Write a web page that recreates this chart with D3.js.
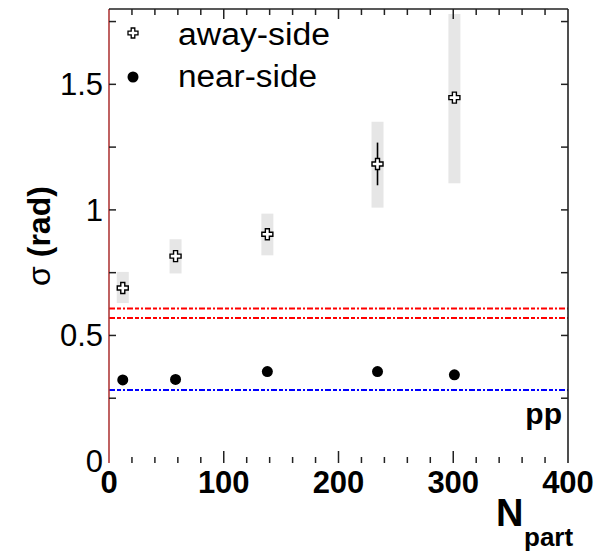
<!DOCTYPE html>
<html>
<head>
<meta charset="utf-8">
<script src="https://cdn.jsdelivr.net/npm/d3@7"></script>
<style>
  html, body { margin: 0; padding: 0; background: #fff; }
  svg { display: block; }
  text { font-family: "Liberation Sans", Arial, sans-serif; fill: #000; }
</style>
</head>
<body>
<svg id="chart" width="595" height="552"></svg>
<script>
// Number of participants per centrality bin
const npart = [12, 58, 138, 234, 301];
// Away-side Gaussian width (rad), statistical and systematic errors
const awaySigma = [0.689, 0.816, 0.903, 1.183, 1.447];
const awayStat = [0.008, 0.01, 0.01, 0.085, 0.02];
const awaySysLow = [0.629, 0.747, 0.819, 1.009, 1.106];
const awaySysHigh = [0.753, 0.883, 0.985, 1.351, 1.780];
// Near-side Gaussian width (rad)
const nearSigma = [0.323, 0.325, 0.356, 0.356, 0.343];
// p+p reference bands
const ppAway = [0.607, 0.569];
const ppNear = [0.283];
// Axis ticks
const xTickLabels = [0, 100, 200, 300, 400];
const yTickLabels = [0, 0.5, 1, 1.5];

(function () {
const svg = d3.select("#chart");
const pl = 109, pr = 568, pt = 9, pb = 461;

const x = d3.scaleLinear().domain([0, 400]).range([pl, pr]);
const y = d3.scaleLinear().domain([0, 1.8]).range([pb, pt]);

// Systematic error boxes
svg.append("g").selectAll("rect")
  .data(npart)
  .join("rect")
  .attr("x", (d) => x(d) - 6)
  .attr("width", 12)
  .attr("y", (d, i) => y(awaySysHigh[i]))
  .attr("height", (d, i) => y(awaySysLow[i]) - y(awaySysHigh[i]))
  .attr("fill", "#e6e6e6");

// p+p reference lines
const dash = "6,2,4,2,2,2";
svg.append("g").selectAll("line")
  .data(ppAway)
  .join("line")
  .attr("x1", pl).attr("x2", pr)
  .attr("y1", (d) => y(d)).attr("y2", (d) => y(d))
  .attr("stroke", "#ff0000").attr("stroke-width", 2)
  .attr("stroke-dasharray", dash);
svg.append("g").selectAll("line")
  .data(ppNear)
  .join("line")
  .attr("x1", pl).attr("x2", pr)
  .attr("y1", (d) => y(d)).attr("y2", (d) => y(d))
  .attr("stroke", "#0000ff").attr("stroke-width", 2)
  .attr("stroke-dasharray", dash);

// Frame: left axis line in dark red, top and right in black
svg.append("line").attr("x1", pl).attr("x2", pl).attr("y1", pt).attr("y2", pb + 2)
  .attr("stroke", "#b03a3a").attr("stroke-width", 1.6);
svg.append("line").attr("x1", pl).attr("x2", pr).attr("y1", pt).attr("y2", pt)
  .attr("stroke", "#222").attr("stroke-width", 1.6);
svg.append("line").attr("x1", pr).attr("x2", pr).attr("y1", pt).attr("y2", pb + 2)
  .attr("stroke", "#222").attr("stroke-width", 1.6);

// Y ticks (inward on both sides) and labels
const yTicks = d3.range(0.25, 1.8, 0.25);
svg.append("g").selectAll("line").data(yTicks).join("line")
  .attr("x1", pl).attr("x2", pl + 7)
  .attr("y1", (d) => y(d)).attr("y2", (d) => y(d))
  .attr("stroke", "#222").attr("stroke-width", 1.5);
svg.append("g").selectAll("line").data(yTicks).join("line")
  .attr("x1", pr - 7).attr("x2", pr)
  .attr("y1", (d) => y(d)).attr("y2", (d) => y(d))
  .attr("stroke", "#222").attr("stroke-width", 1.5);
svg.append("g").selectAll("text").data(yTickLabels).join("text")
  .attr("x", pl - 6)
  .attr("y", (d) => y(d) + 11)
  .attr("text-anchor", "end")
  .attr("font-size", 31)
  .text((d) => d3.format("~g")(d));

// X ticks (top inward, bottom without baseline) and labels
const xMinor = d3.range(20, 400, 20);
svg.append("g").selectAll("line").data(xMinor).join("line")
  .attr("x1", (d) => x(d)).attr("x2", (d) => x(d))
  .attr("y1", pt).attr("y2", (d) => pt + (d % 100 === 0 ? 10 : 6))
  .attr("stroke", "#222").attr("stroke-width", 1.5);
svg.append("g").selectAll("line").data(xMinor).join("line")
  .attr("x1", (d) => x(d)).attr("x2", (d) => x(d))
  .attr("y1", pb + 2).attr("y2", (d) => pb + 2 - (d % 100 === 0 ? 12 : 6))
  .attr("stroke", "#222").attr("stroke-width", 1.5);
svg.append("g").selectAll("text").data(xTickLabels).join("text")
  .attr("x", (d) => x(d))
  .attr("y", pb + 32)
  .attr("text-anchor", "middle")
  .attr("font-size", 31)
  .attr("font-weight", "bold")
  .text((d) => d);

// Axis titles
const yt = svg.append("text")
  .attr("transform", "translate(50,236) rotate(-90)")
  .attr("text-anchor", "middle")
  .attr("font-size", 32)
  .attr("font-weight", "bold");
yt.append("tspan").attr("font-weight", "normal").text("σ");
yt.append("tspan").text(" (rad)");

svg.append("text")
  .attr("x", 496).attr("y", 526)
  .attr("font-size", 38)
  .attr("font-weight", "bold")
  .text("N");
svg.append("text")
  .attr("x", 524).attr("y", 546)
  .attr("font-size", 26)
  .attr("font-weight", "bold")
  .text("part");

// pp label
svg.append("text")
  .attr("x", 562).attr("y", 424)
  .attr("text-anchor", "end")
  .attr("font-size", 30)
  .attr("font-weight", "bold")
  .text("pp");

// Open-cross marker outline
const crossPath = (s, a) =>
  `M${-a},${-s}H${a}V${-a}H${s}V${a}H${a}V${s}H${-a}V${a}H${-s}V${-a}H${-a}Z`;

// Away-side stat error bars
svg.append("g").selectAll("line").data(npart).join("line")
  .attr("x1", (d) => x(d)).attr("x2", (d) => x(d))
  .attr("y1", (d, i) => y(awaySigma[i] + awayStat[i]))
  .attr("y2", (d, i) => y(awaySigma[i] - awayStat[i]))
  .attr("stroke", "#000").attr("stroke-width", 1.6);

// Away-side markers
svg.append("g").selectAll("path").data(npart).join("path")
  .attr("transform", (d, i) => `translate(${x(d)},${y(awaySigma[i])})`)
  .attr("d", crossPath(5.5, 2))
  .attr("fill", "#fff")
  .attr("stroke", "#000").attr("stroke-width", 1.4);

// Near-side markers
svg.append("g").selectAll("circle").data(npart).join("circle")
  .attr("cx", (d) => x(d))
  .attr("cy", (d, i) => y(nearSigma[i]))
  .attr("r", 5.5)
  .attr("fill", "#000");

// Legend
const legend = svg.append("g");
legend.append("path")
  .attr("transform", "translate(133,33)")
  .attr("d", crossPath(5, 1.8))
  .attr("fill", "#fff").attr("stroke", "#000").attr("stroke-width", 1.3);
legend.append("circle").attr("cx", 133).attr("cy", 77).attr("r", 5.5).attr("fill", "#000");
legend.append("text").attr("x", 178).attr("y", 45).attr("font-size", 31)
  .attr("textLength", 152).attr("lengthAdjust", "spacingAndGlyphs").text("away-side");
legend.append("text").attr("x", 178).attr("y", 87).attr("font-size", 31)
  .attr("textLength", 139).attr("lengthAdjust", "spacingAndGlyphs").text("near-side");
})();
</script>
</body>
</html>
